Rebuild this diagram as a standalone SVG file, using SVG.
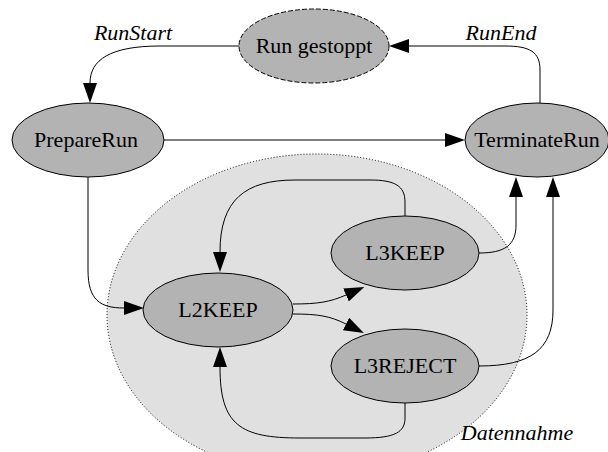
<svg xmlns="http://www.w3.org/2000/svg" width="608" height="452" viewBox="0 0 608 452">
<style>
.node{fill:#b3b3b3;stroke:#000;stroke-width:1}
.dashed{stroke-dasharray:5,2}
.cluster{fill:#e0e0e0;stroke:#000;stroke-width:1;stroke-dasharray:1,2}
text{font-family:'Liberation Serif','Times New Roman',Times,serif;font-size:22px;fill:#000;text-anchor:middle}
.it{font-style:italic}
.edge{fill:none;stroke:#000;stroke-width:1;marker-end:url(#arr)}
</style>
<defs>
<marker id="arr" viewBox="0 0 20 14" refX="0" refY="7" markerWidth="20" markerHeight="14" markerUnits="userSpaceOnUse" orient="auto">
<path d="M0,0 L20,7 L0,14 Z" fill="#000"/>
</marker>
</defs>
<rect width="608" height="452" fill="#fff"/>
<g id="cluster_Datennahme">
<ellipse class="cluster" cx="317" cy="315" rx="210" ry="161"/>
<text class="it" x="517" y="440">Datennahme</text>
</g>
<g id="edges">
<path class="edge" d="M239,46 L160,46 C110,46 90,60 90,83"/>
<text class="it" x="133" y="40">RunStart</text>
<path class="edge" d="M540,103 L540,70 C540,52 530,46 505,46 L409,46"/>
<text class="it" x="501" y="40">RunEnd</text>
<path class="edge" d="M164,140 L445,140"/>
<path class="edge" d="M88,177 L88,270 C88,300 100,308 124,308"/>
<path class="edge" d="M405,216 L405,202 C405,186 395,180 370,180 L295,180 C245,180 220,200 220,252"/>
<path class="edge" d="M293,304 C318,304 330,302 346,295"/>
<path class="edge" d="M293,314 C318,314 330,316 346,324"/>
<path class="edge" d="M405,403 L405,418 C405,432 395,438 365,438 L300,438 C240,438 220,425 220,367"/>
<path class="edge" d="M479,253 C505,253 516,245 516,225 L516,197"/>
<path class="edge" d="M479,366 C530,366 553,350 553,310 L553,197"/>
</g>
<g id="node_RunGestoppt">
<ellipse class="node dashed" cx="314" cy="46" rx="75" ry="37"/>
<text x="314" y="53">Run gestoppt</text>
</g>
<g id="node_PrepareRun">
<ellipse class="node" cx="88" cy="140" rx="76" ry="37"/>
<text x="86" y="147">PrepareRun</text>
</g>
<g id="node_TerminateRun">
<ellipse class="node" cx="537" cy="140" rx="72" ry="37"/>
<text x="537" y="147">TerminateRun</text>
</g>
<g id="node_L2KEEP">
<ellipse class="node" cx="218" cy="310" rx="75" ry="37"/>
<text x="218" y="317">L2KEEP</text>
</g>
<g id="node_L3KEEP">
<ellipse class="node" cx="405" cy="253" rx="74" ry="37"/>
<text x="405" y="260">L3KEEP</text>
</g>
<g id="node_L3REJECT">
<ellipse class="node" cx="405" cy="366" rx="74" ry="37"/>
<text x="405" y="373">L3REJECT</text>
</g>
</svg>
